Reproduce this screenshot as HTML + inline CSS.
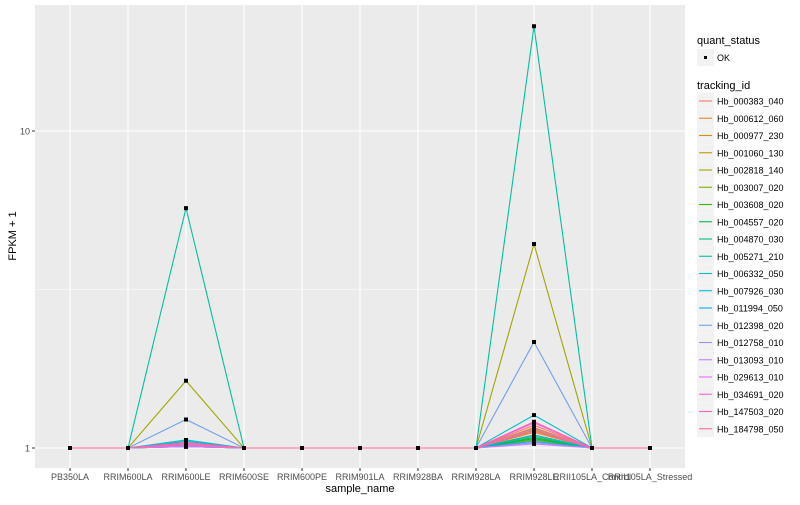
<!DOCTYPE html>
<html><head><meta charset="utf-8"><style>
body{margin:0;background:#fff;}
svg text{font-family:"Liberation Sans",sans-serif;}
</style></head><body>
<svg id="chart" width="800" height="500" xmlns="http://www.w3.org/2000/svg">
<rect x="35" y="5" width="650" height="463" fill="#EBEBEB"/>
<g id="grid"></g><g id="series"></g><g id="points"></g><g id="axes"></g><g id="legend"></g>
<text x="360" y="492" font-size="11" text-anchor="middle" fill="#000">sample_name</text>
<text transform="translate(16,236) rotate(-90)" font-size="11" text-anchor="middle" fill="#000">FPKM + 1</text>
</svg>
<script>
const categories=["PB350LA","RRIM600LA","RRIM600LE","RRIM600SE","RRIM600PE","RRIM901LA","RRIM928BA","RRIM928LA","RRIM928LE","RRII105LA_Control","RRII105LA_Stressed"];
const seriesNames=["Hb_000383_040","Hb_000612_060","Hb_000977_230","Hb_001060_130","Hb_002818_140","Hb_003007_020","Hb_003608_020","Hb_004557_020","Hb_004870_030","Hb_005271_210","Hb_006332_050","Hb_007926_030","Hb_011994_050","Hb_012398_020","Hb_012758_010","Hb_013093_010","Hb_029613_010","Hb_034691_020","Hb_147503_020","Hb_184798_050"];
const colors=["#F8766D","#EA8331","#D89000","#C09B00","#A3A500","#7CAE00","#39B600","#00BB4E","#00BF7D","#00C1A3","#00BFC4","#00BAE0","#00B0F6","#6FA0E8","#9590FF","#C77CFF","#E76BF3","#FA62DB","#FF62BC","#FF6C91"];
// values at RRIM600LE and RRIM928LE (FPKM+1); all other samples = 1
const valLE=[1.04,1.03,1.02,1.02,1.63,1.01,1.01,1.02,1.01,5.71,1.06,1.05,1.02,1.23,1.01,1.01,1.02,1.03,1.04,1.03];
const val928LE=[1.18,1.12,1.16,1.14,4.4,1.06,1.08,1.07,1.10,21.4,1.27,1.09,1.05,2.16,1.04,1.03,1.15,1.20,1.21,1.13];
const yTicks=[1,10];
const yMinor=[Math.sqrt(10)];

const ns="http://www.w3.org/2000/svg";
const xScale=i=>70+i*58;
const yScale=v=>448-Math.log10(v)*317;
function mk(tag,attrs,parent){const e=document.createElementNS(ns,tag);for(const k in attrs)e.setAttribute(k,attrs[k]);parent.appendChild(e);return e;}
const grid=document.getElementById('grid'),ser=document.getElementById('series'),pts=document.getElementById('points'),axes=document.getElementById('axes'),leg=document.getElementById('legend');
yMinor.forEach(v=>{const l=mk('line',{x1:35,x2:685,y1:yScale(v),y2:yScale(v),stroke:'#fff','stroke-width':0.5},grid);

});
yTicks.forEach(v=>{const y=yScale(v);const l=mk('line',{x1:35,x2:685,y1:y,y2:y,stroke:'#fff','stroke-width':1.1},grid);


const t=mk('line',{x1:32,x2:35,y1:y,y2:y,stroke:'#333'},axes);


const tx=mk('text',{x:30,y:y+3.5,'font-size':9,'text-anchor':'end',fill:'#4D4D4D'},axes);tx.textContent=String(v);

});
categories.forEach((c,i)=>{const x=xScale(i);const l=mk('line',{x1:x,x2:x,y1:5,y2:468,stroke:'#fff','stroke-width':1.1},grid);


const t=mk('line',{x1:x,x2:x,y1:468,y2:471,stroke:'#333'},axes);


const tx=mk('text',{x:x,y:480,'font-size':9,'text-anchor':'middle',fill:'#4D4D4D'},axes);tx.textContent=c;

});
function vals(s){return categories.map((c,i)=>i===2?valLE[s]:i===8?val928LE[s]:1);}
seriesNames.forEach((n,s)=>{const v=vals(s);
const p=mk('polyline',{points:v.map((d,i)=>xScale(i)+','+yScale(d)).join(' '),fill:'none',stroke:colors[s],'stroke-width':1.1},ser);


v.forEach((d,i)=>{const r=mk('rect',{x:xScale(i)-2,y:yScale(d)-2,width:4,height:4,fill:'#000'},pts);

});});
// legend
let t=mk('text',{x:697,y:44,'font-size':11,fill:'#000'},leg);t.textContent='quant_status';


let b=mk('rect',{x:697,y:49,width:17,height:17,fill:'#F2F2F2'},leg);


let d=mk('rect',{x:704,y:56,width:3,height:3,fill:'#000'},leg);


t=mk('text',{x:717,y:61,'font-size':9,fill:'#000'},leg);t.textContent='OK';


t=mk('text',{x:697,y:89,'font-size':11,fill:'#000'},leg);t.textContent='tracking_id';


seriesNames.forEach((n,s)=>{const y=101+s*17.25;
const k=mk('rect',{x:697,y:y-8.5,width:17,height:17,fill:'#F2F2F2'},leg);


const l=mk('line',{x1:699,x2:712,y1:y,y2:y,stroke:colors[s],'stroke-width':1.1},leg);


const tx=mk('text',{x:717,y:y+3.5,'font-size':9,fill:'#000'},leg);tx.textContent=n;

});
</script>
</body></html>
